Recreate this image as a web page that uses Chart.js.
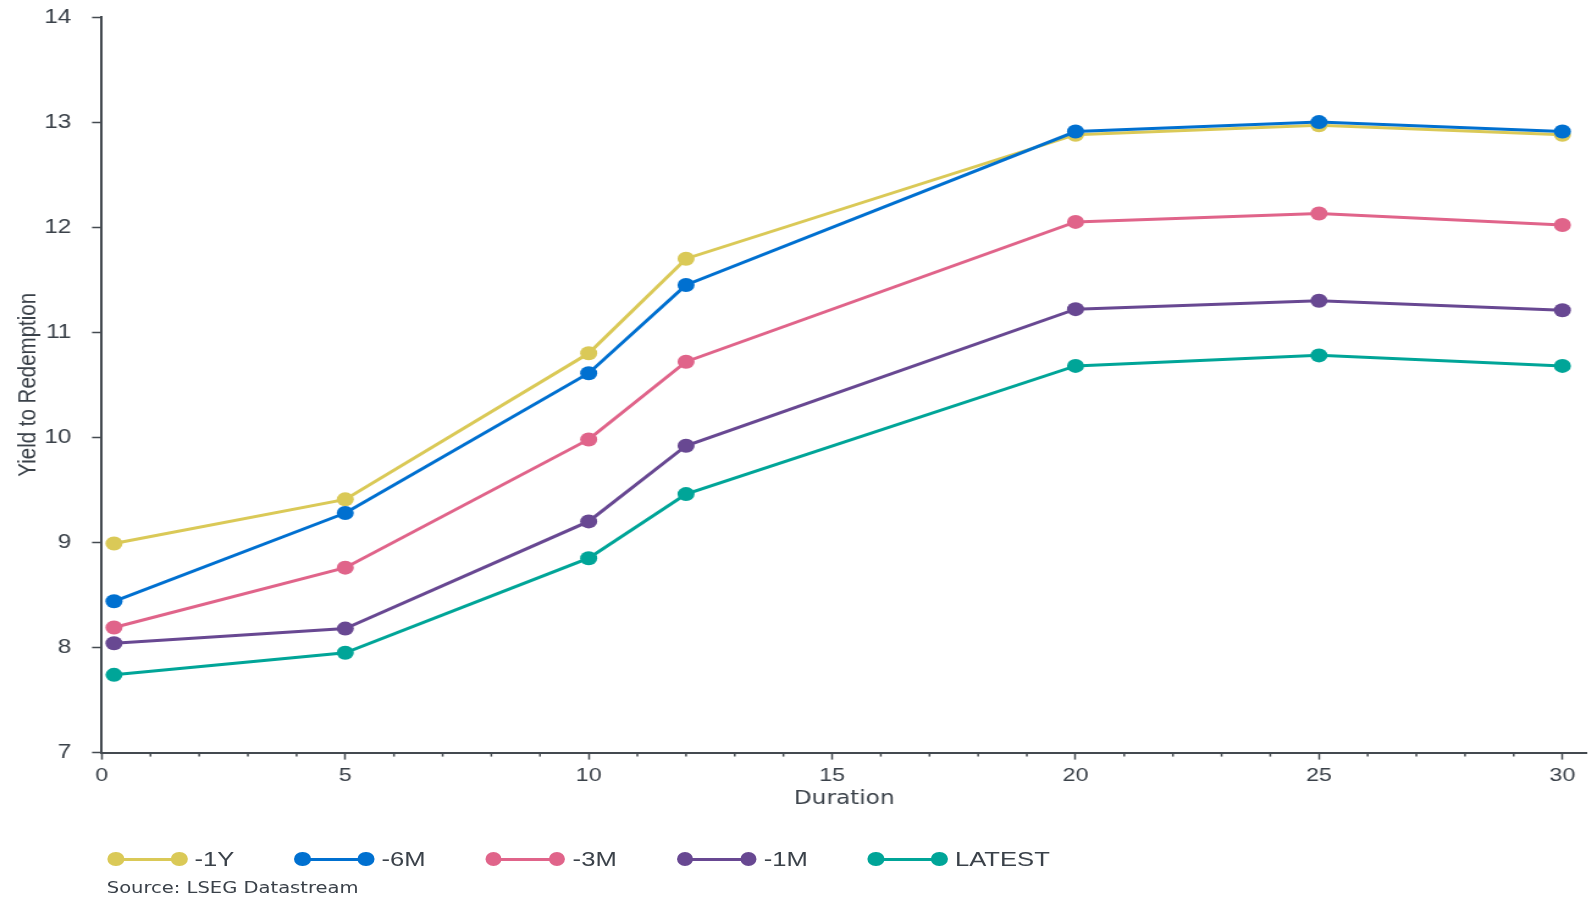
<!DOCTYPE html>
<html>
<head>
<meta charset="utf-8">
<title>Yield to Redemption by Duration</title>
<script src="https://cdn.jsdelivr.net/npm/chart.js@4.4.1/dist/chart.umd.min.js"></script>
<style>
  html, body { margin: 0; padding: 0; background: #ffffff; overflow: hidden; }
  #stage {
    position: absolute; left: 0; top: 0;
    width: 1306.6px; height: 898px;
    transform: scaleX(1.22); transform-origin: 0 0;
  }
  #plot { position: absolute; left: 0; top: -12.2px; width: 1306.6px; height: 910.2px; }
  #legend {
    position: absolute; left: 88px; top: 847px; height: 24px;
    display: flex; align-items: center;
    font-family: "Liberation Sans", Arial, sans-serif; font-size: 21px; color: #3a4149;
  }
  .item { display: flex; align-items: center; margin-right: 49px; }
  .sym { position: relative; width: 65.5px; height: 14px; margin-right: 6px; }
  .sym .ln { position: absolute; left: 7px; right: 7px; top: 5.5px; height: 3px; }
  .sym .dot { position: absolute; top: 0; width: 13.5px; height: 14px; border-radius: 50%; }
  .sym .dot.l { left: 0; }
  .sym .dot.r { right: 0; }
  #source {
    position: absolute; left: 87.5px; top: 878px;
    font-family: "DejaVu Sans", Verdana, sans-serif; font-size: 16px; color: #3a4149;
  }
</style>
</head>
<body>
<div id="stage">
  <div id="plot"><canvas id="chart"></canvas></div>
  <div id="legend"></div>
  <div id="source">Source: LSEG Datastream</div>
</div>
<script>
// Bond durations (years) on the x axis
const durations = [0.25, 5, 10, 12, 20, 25, 30];

// Curve snapshots
const seriesNames = ['-1Y', '-6M', '-3M', '-1M', 'LATEST'];
const yield1Y     = [8.99, 9.41, 10.80, 11.70, 12.88, 12.97, 12.88];
const yield6M     = [8.44, 9.28, 10.61, 11.45, 12.91, 13.00, 12.91];
const yield3M     = [8.19, 8.76, 9.98, 10.72, 12.05, 12.13, 12.02];
const yield1M     = [8.04, 8.18, 9.20, 9.92, 11.22, 11.30, 11.21];
const yieldLatest = [7.74, 7.95, 8.85, 9.46, 10.68, 10.78, 10.68];
const seriesColors = ['#dac957', '#0070d0', '#e0648a', '#684892', '#00a598'];

// Axis settings
const yTicks = { min: 7, max: 14, step: 1 };
const xTicks = { min: 0, max: 30.5, step: 1, labelEvery: 5 };

const axisColor = '#444a50';
const textColor = '#3a4149';
const baseFont = '"Liberation Sans", Arial, sans-serif';
const wideFont = '"DejaVu Sans", Verdana, sans-serif';

const allSeries = [yield1Y, yield6M, yield3M, yield1M, yieldLatest];

const datasets = allSeries.map((vals, i) => ({
  label: seriesNames[i],
  data: durations.map((d, j) => ({ x: d, y: vals[j] })),
  borderColor: seriesColors[i],
  backgroundColor: seriesColors[i],
  pointBackgroundColor: seriesColors[i],
  pointBorderWidth: 0,
  pointRadius: 7,
  pointHoverRadius: 7,
  borderWidth: 3,
  tension: 0,
  order: seriesNames.length - i
}));

// Short minor ticks between the labelled majors on the duration axis
const minorTicks = {
  id: 'minorTicks',
  afterDraw(chart) {
    const s = chart.scales.x;
    const c = chart.ctx;
    c.save();
    c.strokeStyle = axisColor;
    c.lineWidth = 1.5;
    s.ticks.forEach(t => {
      if (t.value % xTicks.labelEvery !== 0) {
        const px = s.getPixelForValue(t.value);
        c.beginPath();
        c.moveTo(px, s.top);
        c.lineTo(px, s.top + 4);
        c.stroke();
      }
    });
    c.restore();
  }
};

new Chart(document.getElementById('chart'), {
  type: 'line',
  data: { datasets },
  plugins: [minorTicks],
  options: {
    responsive: true,
    maintainAspectRatio: false,
    animation: false,
    events: [],
    layout: { padding: { top: 4.3, right: 0, bottom: 88, left: 0 } },
    plugins: { legend: { display: false }, tooltip: { enabled: false } },
    scales: {
      x: {
        type: 'linear',
        min: xTicks.min,
        max: xTicks.max,
        border: { color: axisColor, width: 2 },
        grid: {
          drawOnChartArea: false,
          drawTicks: true,
          tickLength: 7,
          tickWidth: 1.5,
          tickColor: ctx => (ctx.tick && ctx.tick.value % xTicks.labelEvery === 0) ? axisColor : 'rgba(0,0,0,0)'
        },
        ticks: {
          stepSize: xTicks.step,
          includeBounds: false,
          autoSkip: false,
          maxRotation: 0,
          padding: 5,
          color: textColor,
          font: { family: baseFont, size: 19 },
          callback: v => (v % xTicks.labelEvery === 0 ? String(v) : '')
        },
        title: {
          display: true,
          text: 'Duration',
          color: textColor,
          font: { family: wideFont, size: 19 },
          padding: { top: 5.5, bottom: 0 }
        },
        afterFit: s => { s.height = 57.6; }
      },
      y: {
        min: yTicks.min,
        max: yTicks.max,
        border: { color: axisColor, width: 2 },
        grid: {
          drawOnChartArea: false,
          drawTicks: true,
          tickLength: 8,
          tickWidth: 1.5,
          tickColor: axisColor
        },
        ticks: {
          stepSize: yTicks.step,
          padding: 17,
          color: textColor,
          font: { family: baseFont, size: 20 }
        },
        title: {
          display: true,
          text: 'Yield to Redemption',
          color: textColor,
          font: { family: baseFont, size: 20.5 },
          padding: { top: 11, bottom: 0 }
        },
        afterFit: s => { s.width = 83.4; }
      }
    }
  }
});

// Legend: line with a dot at each end, followed by the series name
const legend = document.getElementById('legend');
seriesNames.forEach((name, i) => {
  const item = document.createElement('div');
  item.className = 'item';
  const sym = document.createElement('div');
  sym.className = 'sym';
  ['ln', 'dot l', 'dot r'].forEach(cls => {
    const p = document.createElement('div');
    p.className = cls;
    p.style.background = seriesColors[i];
    sym.appendChild(p);
  });
  const txt = document.createElement('span');
  txt.textContent = name;
  item.appendChild(sym);
  item.appendChild(txt);
  legend.appendChild(item);
});
</script>
</body>
</html>
